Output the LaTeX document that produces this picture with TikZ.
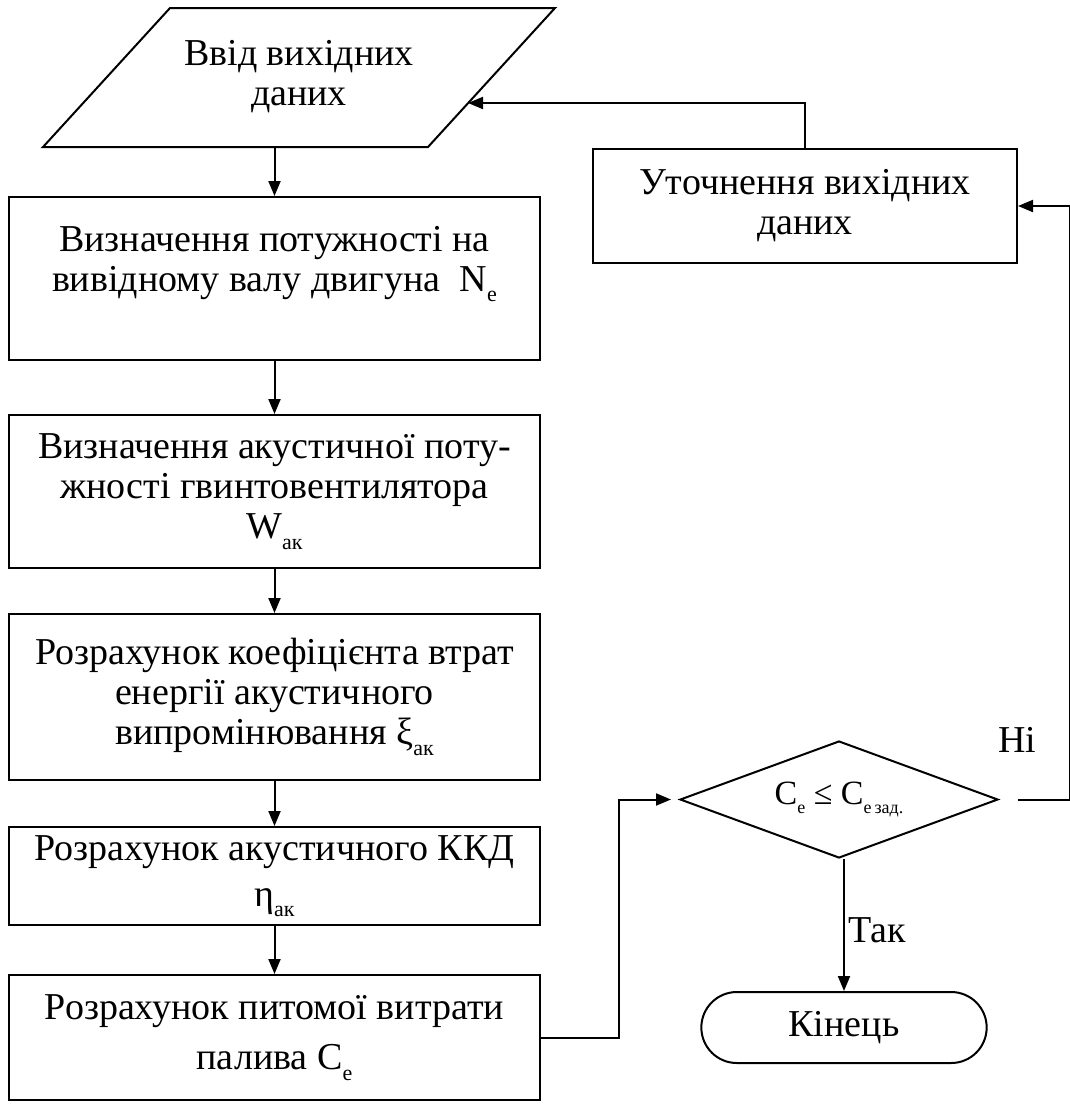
\documentclass[tikz,border=0pt]{standalone}
\usepackage{fontspec}
\setmainfont{Liberation Serif}
\usetikzlibrary{
    arrows.meta,
    shapes.geometric, % diamond
    shapes.misc       % rounded rectangle
}
\newcommand{\lowsub}[2][22]{\raisebox{-0.28em}{\fontsize{#1}{#1}\selectfont #2}}

\begin{document}
\begin{tikzpicture}[x=1pt, y=-1pt, line width=2pt,
    every node/.style={font=\fontsize{38}{40}\selectfont, align=center},
    block/.style={draw, rectangle, minimum width=531pt, inner sep=0pt},
    io/.style={rectangle, minimum width=385pt, minimum height=139pt, inner sep=0pt},
    decision/.style={draw, diamond, aspect=2.7, inner sep=0pt,
        minimum width=318pt, minimum height=117pt},
    terminal/.style={draw, rounded rectangle, minimum width=292pt, minimum height=71pt},
    arr/.style={-{Triangle[length=15pt,width=12pt]}}
  ]
    \useasboundingbox (0,0) rectangle (1070,1104);

    % left column
    \node[io] (inp) at (299,77.5)
        {\raisebox{-5pt}{\begin{tabular}{@{}c@{}}Ввід вихідних\\даних\end{tabular}}};
    \draw ([shift={(-256,69.5)}]inp.center) -- ([shift={(129,69.5)}]inp.center)
       -- ([shift={(256,-69.5)}]inp.center) -- ([shift={(-129,-69.5)}]inp.center) -- cycle;
    \node[block, minimum height=163pt] (pow) at (274.5,278.5)
        {Визначення потужності на\\вивідному валу двигуна ~N\lowsub{е}\\ \mbox{}};
    \node[block, minimum height=153pt] (wak) at (274.5,491.5)
        {Визначення акустичної поту-\\жності гвинтовентилятора\\W\lowsub{ак}};
    \node[block, minimum height=166pt] (xiak) at (274.5,697)
        {Розрахунок коефіцієнта втрат\\енергії акустичного\\випромінювання ξ\lowsub{ак}};
    \node[block, minimum height=98pt] (etaak) at (274.5,876)
        {Розрахунок акустичного ККД\\[6pt]η\lowsub{ак}};
    \node[block, minimum height=125pt] (fuel) at (274.5,1037.5)
        {Розрахунок питомої витрати\\[10pt]палива C\lowsub{е}};

    % right column
    \node[block, minimum width=424pt, minimum height=114pt] (refine) at (805,206)
        {Уточнення вихідних\\даних};
    \node[decision] (chk) at (839,799.5)
        {\fontsize{34}{36}\selectfont C\lowsub[18]{е} ≤ C\lowsub[18]{е\,зад.}};
    \node[terminal] (end) at (844,1027.5) {Кінець};
    \node (no) at (1017,740) {Ні};
    \coordinate (inpin) at (468,103);

    \draw[arr] (pow.north |- inp.south) -- (pow.north);
    \draw[arr] (pow) -- (wak);
    \draw[arr] (wak) -- (xiak);
    \draw[arr] (xiak) -- (etaak);
    \draw[arr] (etaak) -- (fuel);
    \draw[arr, shorten >=8pt] (fuel.east) -- ++(78,0) |- (chk.west);
    \draw[arr, shorten <=19pt] (chk.east) -- ++(71,0) |- (refine.east);
    \draw[arr] (refine.north) |- (inpin);
    \draw[arr] (end.north |- chk.south) -- node[pos=0.54, anchor=west, inner sep=3pt] {Так} (end.north);
\end{tikzpicture}
\end{document}
